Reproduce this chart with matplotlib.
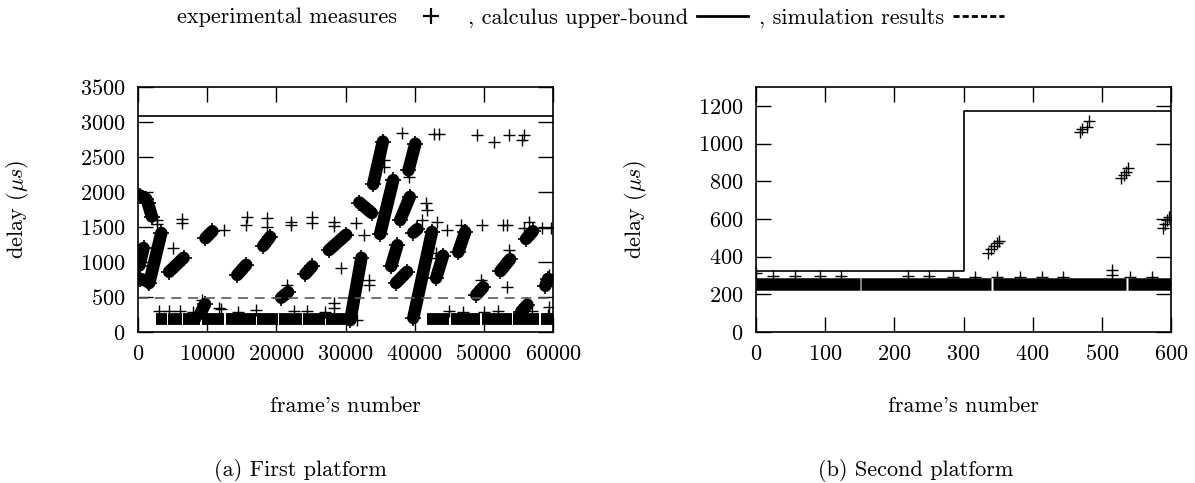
import matplotlib
matplotlib.use("Agg")
import matplotlib.pyplot as plt
from matplotlib.lines import Line2D

plt.rcParams['font.family'] = ['cmr10', 'DejaVu Serif']
plt.rcParams['mathtext.fontset'] = 'cm'
plt.rcParams['axes.formatter.use_mathtext'] = True
plt.rcParams['font.size'] = 16

# ---- first platform (frames 0..60000) ----
# dense streaks of measures: (x start, y start, x end, y end)
streaks_a = [
    (300, 1950, 1200, 1900), (1400, 1850, 2000, 1650), (200, 950, 800, 1200),
    (300, 760, 1500, 720), (1630, 700, 3370, 1415), (4500, 860, 6600, 1060),
    (9750, 1340, 10750, 1440), (14350, 815, 15650, 960), (18100, 1230, 19100, 1360),
    (9000, 260, 9700, 400), (20700, 490, 21700, 570), (24200, 830, 25200, 940),
    (27600, 1170, 30100, 1390), (30700, 170, 32300, 1060), (34000, 2110, 35400, 2720),
    (32000, 1850, 33800, 1700), (35000, 1400, 36900, 2170), (37900, 1600, 39300, 1930),
    (36600, 940, 37500, 1240), (37300, 700, 38900, 860), (39100, 2310, 40100, 2690),
    (39800, 1420, 40400, 1470), (39800, 200, 42500, 1430), (43100, 770, 44100, 1090),
    (46300, 1140, 47300, 1430), (48900, 530, 49900, 640), (52400, 870, 53800, 1040),
    (56100, 1330, 57100, 1440), (58900, 660, 59300, 760), (55400, 290, 56300, 390),
]
# low band of measures around 185 us: (x start, x end)
band_a = [(2600, 4200), (4400, 6300), (6500, 9000), (9200, 12500), (12700, 17000),
          (17200, 20200), (20400, 23700), (23900, 27000), (27200, 31000),
          (41800, 45000), (45200, 49500), (49700, 54000), (54200, 58000), (58200, 60000)]
band_a_y = 185
# isolated measures
pts_a_x = [2800, 2800, 6300, 6300, 5000, 12500, 15700, 15600, 18700, 18700,
           22100, 22100, 25200, 25200, 28400, 28400, 31500, 32700, 29300, 33400,
           33400, 28400, 28400, 31700, 38200, 39200, 35600, 35600, 42800, 43500,
           49000, 51500, 53700, 55800, 55500, 41700, 41800, 41100, 43200, 44700,
           46700, 49800, 52700, 53400, 55800, 56600, 58400, 59700, 53400, 49600,
           53600, 59400, 59400, 59300, 43100, 43100, 9300, 11700, 21600,
           3000, 4500, 6000, 8000, 12000, 14500, 17000, 22500, 24500, 27000,
           45000, 47000, 50000, 52000, 57000]
pts_a_y = [1600, 1550, 1560, 1610, 1200, 1460, 1640, 1530, 1630, 1500,
           1570, 1530, 1640, 1560, 1570, 1520, 1560, 1390, 910, 740,
           670, 410, 340, 170, 2840, 2220, 2460, 2360, 2830, 2830,
           2820, 2710, 2820, 2820, 2740, 1840, 1740, 1600, 1570, 1460,
           1530, 1530, 1530, 1530, 1490, 1570, 1490, 1490, 640, 740,
           1170, 810, 360, 240, 1130, 1060, 460, 340, 670,
           300, 300, 300, 290, 330, 280, 320, 300, 300, 290,
           300, 280, 290, 300, 300]
bound_a = 3080
sim_a = 480

# ---- second platform (frames 0..600) ----
band_b = [(0, 150), (152, 340), (343, 535), (538, 600)]
band_b_y = 255
pts_b_x = [0, 25, 57, 92, 123, 220, 250, 285, 316, 348, 382, 413, 444, 514, 514,
           541, 572, 599,
           336, 340, 344, 348, 351,
           468, 472, 478, 482,
           528, 532, 535, 538,
           588, 591, 594, 597]
pts_b_y = [313, 295, 295, 295, 295, 295, 295, 293, 293, 293, 293, 293, 293, 329, 302,
           293, 293, 255,
           420, 440, 455, 470, 485,
           1060, 1075, 1090, 1120,
           815, 835, 850, 870,
           550, 575, 595, 610]
bound_b_x = [0, 300, 300, 600]
bound_b_y = [325, 325, 1174, 1174]

fig = plt.figure(figsize=(11.95, 4.83), dpi=100)
ax1 = fig.add_axes([138 / 1195, 151 / 483, 415 / 1195, 245 / 483])
ax2 = fig.add_axes([756 / 1195, 151 / 483, 415 / 1195, 245 / 483])

mk = dict(marker='+', color='black', linestyle='none', markersize=9, markeredgewidth=1.0)

for x0, y0, x1, y1 in streaks_a:
    ax1.plot([x0, x1], [y0, y1], color='black', lw=9, solid_capstyle='round',
             marker='+', markersize=12, markeredgewidth=1.2)
for x0, x1 in band_a:
    ax1.plot([x0, x1], [band_a_y, band_a_y], color='black', lw=8.5, solid_capstyle='butt')
ax1.plot(pts_a_x, pts_a_y, **mk)
ax1.axhline(bound_a, color='black', lw=1.2)
ax1.axhline(sim_a, color='0.35', lw=1.2, dashes=(6, 4))
ax1.set_xlim(0, 60000)
ax1.set_ylim(0, 3500)
ax1.set_xticks(range(0, 60001, 10000))
ax1.set_yticks(range(0, 3501, 500))

for x0, x1 in band_b:
    ax2.plot([x0, x1], [band_b_y, band_b_y], color='black', lw=9, solid_capstyle='butt')
ax2.plot(pts_b_x, pts_b_y, **mk)
ax2.plot(bound_b_x, bound_b_y, color='black', lw=1.2)
ax2.set_xlim(0, 600)
ax2.set_ylim(0, 1300)
ax2.set_xticks(range(0, 601, 100))
ax2.set_yticks(range(0, 1201, 200))

for ax in (ax1, ax2):
    ax.tick_params(direction='in', length=11, width=1, top=True, right=True,
                   labelsize=16, pad=9)
    for s in ax.spines.values():
        s.set_linewidth(1.2)
    ax.set_xlabel("frame's number", fontsize=16)
    ax.set_ylabel(r"delay ($\mu s$)", fontsize=16)
    ax.xaxis.set_label_coords(0.5, -0.265)
    ax.yaxis.set_label_coords(-0.258, 0.5)

fig.text(300 / 1195, 1 - 470 / 483, "(a) First platform", ha='center', va='center', fontsize=16)
fig.text(916 / 1195, 1 - 470 / 483, "(b) Second platform", ha='center', va='center', fontsize=16)

handles = [Line2D([], [], marker='+', color='black', linestyle='none', markersize=11,
                  markeredgewidth=1.6),
           Line2D([], [], color='black', lw=2),
           Line2D([], [], color='black', lw=2, dashes=(2.2, 1.1))]
labels = ["experimental measures", ", calculus upper-bound", ", simulation results"]
fig.legend(handles, labels, loc='upper center', bbox_to_anchor=(0.494, 1.025), ncol=3,
           frameon=False, markerfirst=False, handlelength=2.3, columnspacing=0.5,
           handletextpad=0.4, fontsize=16)

fig.savefig("out.png", dpi=100)
